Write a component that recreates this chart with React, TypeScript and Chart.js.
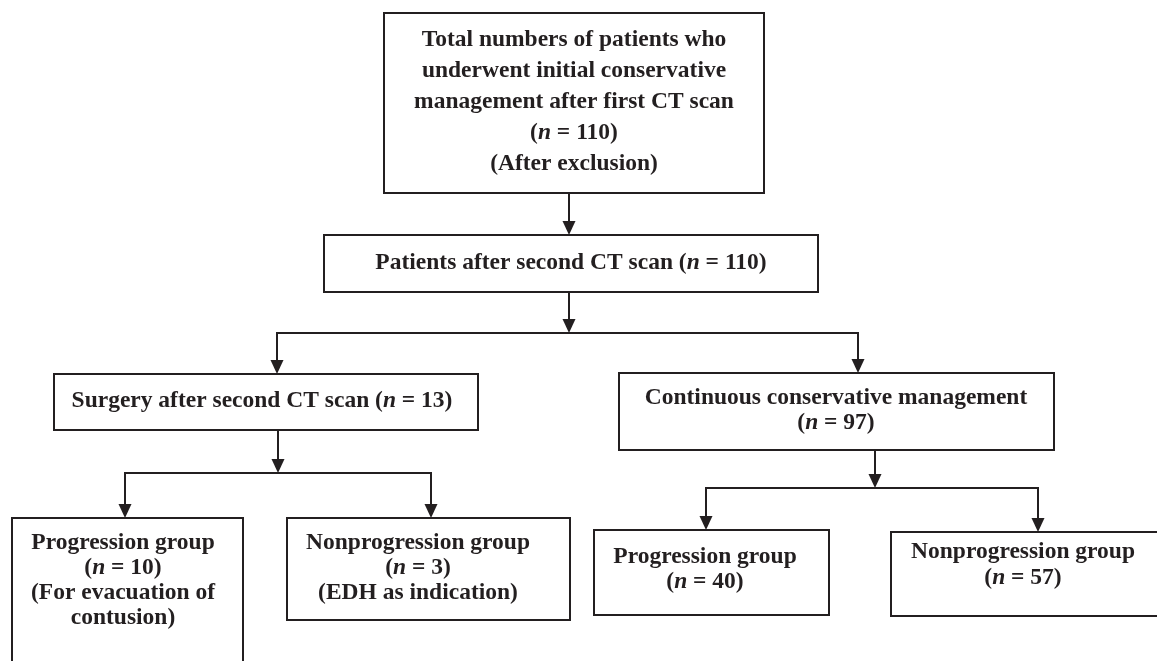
import React, { useEffect, useRef } from "react";
import { Chart, registerables } from "chart.js";

Chart.register(...registerables);

const W = 1157;
const H = 661;

// ---- flowchart content ----
const nodeTitles: string[][] = [
  ["Total numbers of patients who", "underwent initial conservative", "management after first CT scan"],
  ["Patients after second CT scan"],
  ["Surgery after second CT scan"],
  ["Continuous conservative management"],
  ["Progression group"],
  ["Nonprogression group"],
  ["Progression group"],
  ["Nonprogression group"],
];
const nodeCounts = [110, 110, 13, 97, 10, 3, 40, 57];
const countInline = [false, true, true, false, false, false, false, false];
const nodeNotes: string[][] = [
  ["(After exclusion)"],
  [],
  [],
  [],
  ["(For evacuation of", "contusion)"],
  ["(EDH as indication)"],
  [],
  [],
];
const nodeParents = [-1, 0, 1, 1, 2, 2, 3, 3];

// ---- layout, in units of the (hidden) x / y scales ----
const boxLeft = [384, 324, 54, 619, 12, 287, 594, 891];
const boxRight = [764, 818, 478, 1054, 243, 570, 829, 1168];
const boxTop = [13, 235, 374, 373, 518, 518, 530, 532];
const boxBottom = [193, 292, 430, 450, 700, 620, 615, 616];
const textCenterX = [574, 571, 262, 836, 123, 418, 705, 1023];
const firstLineY = [40, 263, 401, 398, 543, 543, 557, 552];
const lineGap = [31, 25, 25, 25, 25, 25, 25, 26];
const stemX = [569, 569, 278, 875];
const junctionY = [-1, 333, 473, 488];
const dropX = [0, 569, 277, 858, 125, 431, 706, 1038];

const INK = "#231f20";
const FONT_PX = 23.5;
const FAMILY = '"Liberation Serif", "Times New Roman", serif';

function nodeLines(i: number): string[] {
  const lines = nodeTitles[i].slice();
  const cnt = `(*n* = ${nodeCounts[i]})`;
  if (countInline[i]) {
    lines[lines.length - 1] = lines[lines.length - 1] + " " + cnt;
  } else {
    lines.push(cnt);
  }
  return lines.concat(nodeNotes[i]);
}

const flowPlugin = {
  id: "flow",
  afterDraw(chart: any) {
    const ctx: CanvasRenderingContext2D = chart.ctx;
    const xs = chart.scales.x;
    const ys = chart.scales.y;
    const px = (v: number) => xs.getPixelForValue(v);
    const py = (v: number) => ys.getPixelForValue(v);

    ctx.save();
    ctx.strokeStyle = INK;
    ctx.fillStyle = INK;
    ctx.lineWidth = 2;
    ctx.lineCap = "butt";

    const line = (x1: number, y1: number, x2: number, y2: number) => {
      ctx.beginPath();
      ctx.moveTo(px(x1), py(y1));
      ctx.lineTo(px(x2), py(y2));
      ctx.stroke();
    };
    const arrowDown = (x: number, y1: number, y2: number) => {
      const X = px(x);
      const tip = py(y2);
      ctx.beginPath();
      ctx.moveTo(X, py(y1));
      ctx.lineTo(X, tip - 10);
      ctx.stroke();
      ctx.beginPath();
      ctx.moveTo(X - 6.5, tip - 14);
      ctx.lineTo(X + 6.5, tip - 14);
      ctx.lineTo(X, tip);
      ctx.closePath();
      ctx.fill();
    };

    // boxes
    for (let i = 0; i < nodeTitles.length; i++) {
      const x0 = px(boxLeft[i]);
      const x1 = px(boxRight[i]);
      const y0 = py(boxTop[i]);
      const y1 = py(boxBottom[i]);
      ctx.strokeRect(x0, y0, x1 - x0, y1 - y0);
    }

    // connectors
    for (let p = 0; p < stemX.length; p++) {
      const kids: number[] = [];
      nodeParents.forEach((par, k) => {
        if (par === p) kids.push(k);
      });
      if (kids.length === 0) continue;
      if (junctionY[p] < 0) {
        arrowDown(stemX[p], boxBottom[p], boxTop[kids[0]]);
      } else {
        arrowDown(stemX[p], boxBottom[p], junctionY[p]);
        const xsK = kids.map((k) => dropX[k]);
        line(Math.min(...xsK) - 1, junctionY[p], Math.max(...xsK) + 1, junctionY[p]);
        kids.forEach((k) => arrowDown(dropX[k], junctionY[p], boxTop[k]));
      }
    }

    // text
    const bold = `bold ${FONT_PX}px ${FAMILY}`;
    const boldItalic = `italic bold ${FONT_PX}px ${FAMILY}`;
    ctx.textBaseline = "middle";
    ctx.textAlign = "left";
    for (let i = 0; i < nodeTitles.length; i++) {
      const lines = nodeLines(i);
      lines.forEach((ln, j) => {
        const parts = ln.split("*");
        let total = 0;
        parts.forEach((t, k) => {
          ctx.font = k % 2 ? boldItalic : bold;
          total += ctx.measureText(t).width;
        });
        let x = px(textCenterX[i]) - total / 2;
        const y = py(firstLineY[i] + j * lineGap[i]);
        parts.forEach((t, k) => {
          ctx.font = k % 2 ? boldItalic : bold;
          ctx.fillText(t, x, y);
          x += ctx.measureText(t).width;
        });
      });
    }
    ctx.restore();
  },
};

export default function App() {
  const ref = useRef<HTMLCanvasElement | null>(null);
  useEffect(() => {
    if (!ref.current) return;
    const chart = new Chart(ref.current, {
      type: "scatter",
      data: {
        datasets: [
          {
            data: textCenterX.map((x, i) => ({ x, y: (boxTop[i] + Math.min(boxBottom[i], H)) / 2 })),
            pointRadius: 0,
            showLine: false,
          },
        ],
      },
      options: {
        responsive: false,
        maintainAspectRatio: false,
        animation: false,
        events: [],
        layout: { padding: 0 },
        plugins: { legend: { display: false }, tooltip: { enabled: false } },
        scales: {
          x: { type: "linear", min: 0, max: W, display: false },
          y: { type: "linear", min: 0, max: H, reverse: true, display: false },
        },
      },
      plugins: [flowPlugin],
    });
    return () => chart.destroy();
  }, []);
  return (
    <div style={{ position: "fixed", left: 0, top: 0, width: W, height: H, background: "#ffffff" }}>
      <canvas ref={ref} width={W} height={H} style={{ width: W, height: H, display: "block" }} />
    </div>
  );
}
